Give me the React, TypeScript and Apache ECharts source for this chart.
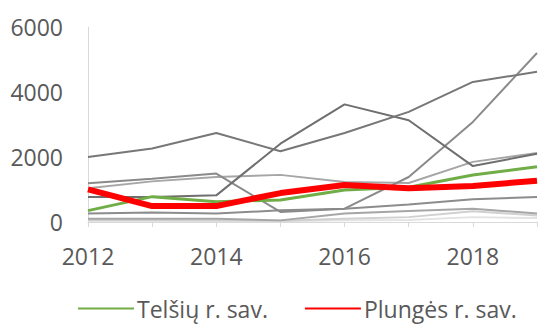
import React, { useEffect, useRef } from "react";
import * as echarts from "echarts";

const years = ["2012", "2013", "2014", "2015", "2016", "2017", "2018", "2019"];
const yTicks = { min: 0, max: 6000, interval: 2000 };

const gray1 = [2000, 2260, 2740, 2175, 2740, 3390, 4310, 4620];
const gray2 = [770, 770, 820, 2410, 3620, 3130, 1720, 2100];
const gray3 = [1190, 1330, 1490, 310, 410, 1385, 3080, 5200];
const gray4 = [1040, 1250, 1385, 1450, 1230, 1200, 1850, 2120];
const gray5 = [260, 290, 260, 360, 410, 540, 700, 770];
const gray6 = [100, 100, 100, 50, 260, 340, 410, 260];
const gray7 = [60, 60, 50, 40, 100, 150, 330, 200];
const gray8 = [30, 30, 30, 20, 50, 60, 150, 120];
const telsiai = [350, 780, 625, 680, 985, 1070, 1445, 1700];
const plunge = [1005, 490, 490, 890, 1140, 1040, 1110, 1270];

const grays: { data: number[]; color: string; width: number }[] = [
  { data: gray8, color: "#e3e3e3", width: 2 },
  { data: gray7, color: "#d0d0d0", width: 2 },
  { data: gray6, color: "#a6a6a6", width: 2 },
  { data: gray5, color: "#8c8c8c", width: 2 },
  { data: gray4, color: "#a6a6a6", width: 2 },
  { data: gray3, color: "#8a8a8a", width: 2 },
  { data: gray2, color: "#6f6f6f", width: 2 },
  { data: gray1, color: "#777777", width: 2 },
];

export default function App() {
  const ref = useRef<HTMLDivElement>(null);
  useEffect(() => {
    if (!ref.current) return;
    const chart = echarts.init(ref.current, undefined, { renderer: "svg" });
    const font = "'Open Sans', 'Liberation Sans', sans-serif";
    chart.setOption({
      animation: false,
      textStyle: { fontFamily: font },
      grid: { left: 88, right: 8, top: 27, bottom: 107, containLabel: false },
      legend: {
        data: ["Telšių r. sav.", "Plungės r. sav."],
        left: 77,
        top: 297,
        padding: 0,
        itemGap: 36,
        itemWidth: 56,
        itemHeight: 14,
        itemStyle: { opacity: 0, borderWidth: 0 },
        textStyle: { fontSize: 23, color: "#595959", fontFamily: font, padding: [0, 0, 0, -2] },
      },
      xAxis: {
        type: "category",
        data: years,
        boundaryGap: false,
        axisLine: { show: true, lineStyle: { color: "#d9d9d9", width: 1 } },
        axisTick: { show: true, interval: 0, length: 5, lineStyle: { color: "#d9d9d9" } },
        axisLabel: { interval: 1, fontSize: 23, color: "#595959", margin: 22, fontFamily: font },
        splitLine: { show: false },
      },
      yAxis: {
        type: "value",
        min: yTicks.min,
        max: yTicks.max,
        interval: yTicks.interval,
        axisLine: { show: true, lineStyle: { color: "#d9d9d9", width: 1 } },
        axisTick: { show: false },
        axisLabel: {
          fontSize: 23,
          color: "#595959",
          margin: 25,
          fontFamily: font,
          formatter: (v: number) => String(v),
        },
        splitLine: { show: false },
      },
      series: [
        ...grays.map((g, i) => ({
          name: "g" + i,
          type: "line",
          data: g.data,
          symbol: "none",
          lineStyle: { color: g.color, width: g.width },
          itemStyle: { color: g.color },
          z: 2,
        })),
        {
          name: "Telšių r. sav.",
          type: "line",
          data: telsiai,
          symbol: "none",
          lineStyle: { color: "#70ad47", width: 3 },
          itemStyle: { color: "#70ad47" },
          z: 3,
        },
        {
          name: "Plungės r. sav.",
          type: "line",
          data: plunge,
          symbol: "none",
          lineStyle: { color: "#ff0000", width: 6 },
          itemStyle: { color: "#ff0000" },
          z: 4,
        },
      ],
    });
    return () => chart.dispose();
  }, []);
  return (
    <div
      ref={ref}
      style={{ position: "fixed", left: 0, top: 0, width: 545, height: 329, background: "#fff" }}
    />
  );
}
